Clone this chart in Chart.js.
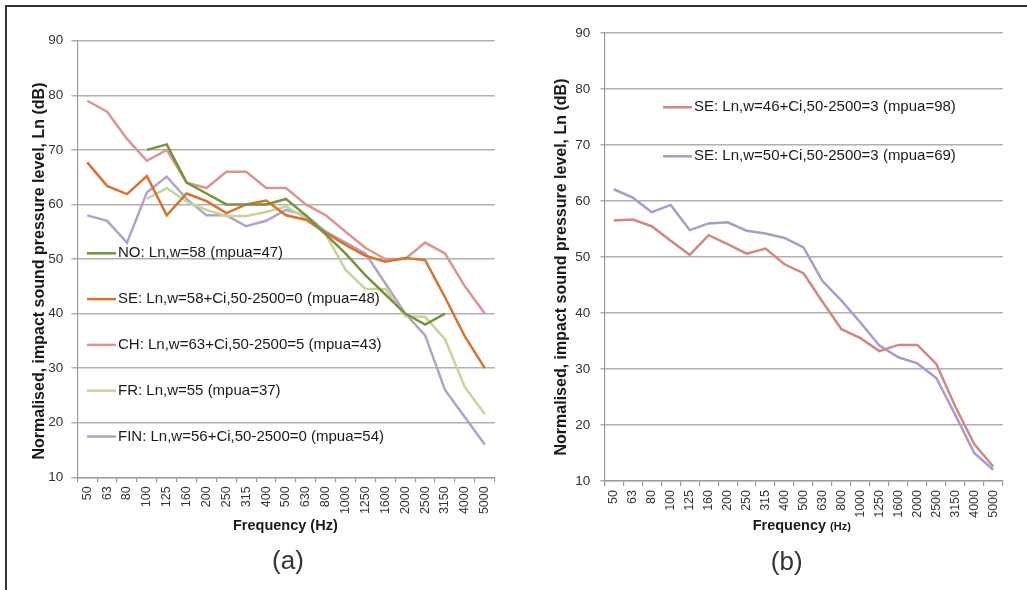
<!DOCTYPE html>
<html>
<head>
<meta charset="utf-8">
<script src="https://cdn.jsdelivr.net/npm/chart.js@4.4.1/dist/chart.umd.min.js"></script>
<style>
  body { margin: 0; background: #fff; }
  #wrap { position: relative; width: 1027px; height: 590px; overflow: hidden; }
  #frame { position: absolute; left: 5px; top: 5px; width: 1040px; height: 600px;
           border-top: 2px solid #333; border-left: 2px solid #333; }
  .box { position: absolute; top: 0; height: 590px; }
</style>
</head>
<body>
<div id="wrap">
  <div id="frame"></div>
  <div class="box" style="left:0;width:520px"><canvas id="chartA"></canvas></div>
  <div class="box" style="left:520px;width:507px"><canvas id="chartB"></canvas></div>
</div>
<script>
// frequency bands (Hz)
var freqs = ['50','63','80','100','125','160','200','250','315','400','500','630','800','1000','1250','1600','2000','2500','3150','4000','5000'];
var yTicks = [10, 20, 30, 40, 50, 60, 70, 80, 90];

// (a) five countries
var labelsA = ['NO: Ln,w=58 (mpua=47)', 'SE: Ln,w=58+Ci,50-2500=0 (mpua=48)', 'CH: Ln,w=63+Ci,50-2500=5 (mpua=43)', 'FR: Ln,w=55 (mpua=37)', 'FIN: Ln,w=56+Ci,50-2500=0 (mpua=54)'];
var noVals  = [null, null, null, 70, 71, 64, 62, 60, 60, 60, 61, 58, 54.5, 51, 47, 43.5, 40, 38, 40, null, null];
var seVals  = [67.7, 63.4, 61.9, 65.2, 58, 62, 60.6, 58.4, 60, 60.7, 58, 57.2, 54.8, 52.6, 50.6, 49.5, 50.2, 49.8, 43, 35.8, 30];
var chVals  = [79, 77, 72, 68, 70, 64, 63, 66, 66, 63, 63, 60, 58, 55, 52, 50, 50, 53, 51, 45, 40];
var frVals  = [null, null, null, 61, 63, 60.5, 59, 57.9, 57.9, 58.6, 59.6, 57.5, 54.5, 48, 44.5, 44.5, 39.5, 39.4, 35.3, 26.5, 21.6];
var finVals = [58, 57, 53, 62.2, 65.1, 61, 58, 58, 56, 57, 59, 58, 55, 53, 51, 45.5, 40, 36, 26, 21, 16];
var colorsA = ['#77933c', '#d9722c', '#d99694', '#c3d69b', '#b3a2c7'];

// (b) two Swedish floors
var labelsB = ['SE: Ln,w=46+Ci,50-2500=3 (mpua=98)', 'SE: Ln,w=50+Ci,50-2500=3 (mpua=69)'];
var se98Vals = [56.5, 56.7, 55.5, 52.9, 50.4, 53.9, 52.3, 50.6, 51.5, 48.7, 47.1, 42, 37.1, 35.5, 33.2, 34.3, 34.3, 30.9, 23.3, 16.6, 12.6];
var se69Vals = [62.1, 60.6, 58, 59.3, 54.8, 56, 56.2, 54.7, 54.2, 53.4, 51.7, 45.7, 42.2, 38.3, 34.2, 32.1, 31, 28.4, 21.8, 15, 12];
var colorsB = ['#d08884', '#a99cc6'];

var FONT = "'Liberation Sans', Arial, sans-serif";
var TXT = '#333';

// draws axis titles, inline legend and panel letter
var decoPlugin = {
  id: 'deco',
  afterDraw: function (chart, args, opt) {
    var ctx = chart.ctx;
    ctx.save();
    ctx.fillStyle = '#1a1a1a';
    // y title
    ctx.save();
    ctx.translate(opt.yTitle[0], opt.yTitle[1]);
    ctx.rotate(-Math.PI / 2);
    ctx.font = 'bold 16px ' + FONT;
    ctx.textAlign = 'center';
    ctx.textBaseline = 'middle';
    ctx.fillText('Normalised, impact sound pressure level, Ln (dB)', 0, 0);
    ctx.restore();
    // x title
    ctx.textBaseline = 'middle';
    ctx.textAlign = 'left';
    ctx.font = 'bold 14.5px ' + FONT;
    ctx.fillText('Frequency', opt.xTitle[0], opt.xTitle[1]);
    var w = ctx.measureText('Frequency ').width;
    ctx.font = 'bold ' + opt.hzSize + 'px ' + FONT;
    ctx.fillText('(Hz)', opt.xTitle[0] + w, opt.xTitle[1] + (14.5 - opt.hzSize) / 3);
    // panel letter
    ctx.fillStyle = '#333';
    ctx.font = '26px ' + FONT;
    ctx.textAlign = 'center';
    ctx.fillText(opt.panel, opt.panelPos[0], opt.panelPos[1]);
    // legend inside plot
    ctx.font = '15px ' + FONT;
    ctx.textAlign = 'left';
    chart.data.datasets.forEach(function (ds, i) {
      var y = opt.legend[1] + i * opt.legend[2];
      var x = opt.legend[0];
      ctx.strokeStyle = ds.borderColor;
      ctx.lineWidth = 2.5;
      ctx.beginPath();
      ctx.moveTo(x, y);
      ctx.lineTo(x + opt.legend[3], y);
      ctx.stroke();
      ctx.fillStyle = '#1a1a1a';
      ctx.fillText(ds.label, x + opt.legend[3] + 2, y);
    });
    ctx.restore();
  }
};

function makeChart(id, labels, series, colors, lay) {
  var datasets = series.map(function (vals, i) {
    return {
      label: labels[i],
      data: vals,
      borderColor: colors[i],
      backgroundColor: colors[i],
      borderWidth: 2.5,
      pointRadius: 0,
      tension: 0,
      fill: false
    };
  });
  return new Chart(document.getElementById(id), {
    type: 'line',
    data: { labels: freqs, datasets: datasets },
    options: {
      responsive: true,
      maintainAspectRatio: false,
      animation: false,
      layout: { autoPadding: false, padding: lay.padding },
      plugins: {
        legend: { display: false },
        tooltip: { enabled: false },
        deco: lay.deco
      },
      scales: {
        x: {
          offset: true,
          afterFit: function (s) { s.height = lay.xHeight; },
          grid: { offset: true, drawOnChartArea: false, drawTicks: true, tickLength: 5, color: '#999', lineWidth: 1.2 },
          border: { color: '#999', width: 1.2 },
          ticks: { autoSkip: false, maxRotation: 90, minRotation: 90, padding: 4, color: TXT, font: { family: FONT, size: 12.5 } }
        },
        y: {
          min: 10,
          max: 90,
          afterFit: function (s) { s.width = lay.yWidth; },
          afterBuildTicks: function (s) { s.ticks = yTicks.map(function (v) { return { value: v }; }); },
          grid: { color: '#b0b0b0', lineWidth: 1.5, tickLength: lay.yTick },
          border: { color: '#999', width: 1.2 },
          ticks: { padding: lay.yPad, color: TXT, font: { family: FONT, size: 13.5 } }
        }
      }
    },
    plugins: [decoPlugin]
  });
}

makeChart('chartA', labelsA, [noVals, seVals, chVals, frVals, finVals], colorsA, {
  padding: { left: 0, top: 40.7, right: 25.3, bottom: 0 },
  xHeight: 112.7, yWidth: 77.3, yTick: 6, yPad: 8,
  deco: { yTitle: [40, 271], xTitle: [233, 526], hzSize: 14.5, panel: '(a)', panelPos: [288, 562], legend: [87, 253.3, 45.8, 29] }
});

makeChart('chartB', labelsB, [se98Vals, se69Vals], colorsB, {
  padding: { left: 0, top: 33, right: 24.3, bottom: 0 },
  xHeight: 109, yWidth: 84.3, yTick: 4, yPad: 10,
  deco: { yTitle: [42, 267], xTitle: [232.7, 526], hzSize: 11, panel: '(b)', panelPos: [266.7, 563], legend: [143, 107.3, 49, 29] }
});
</script>
</body>
</html>
